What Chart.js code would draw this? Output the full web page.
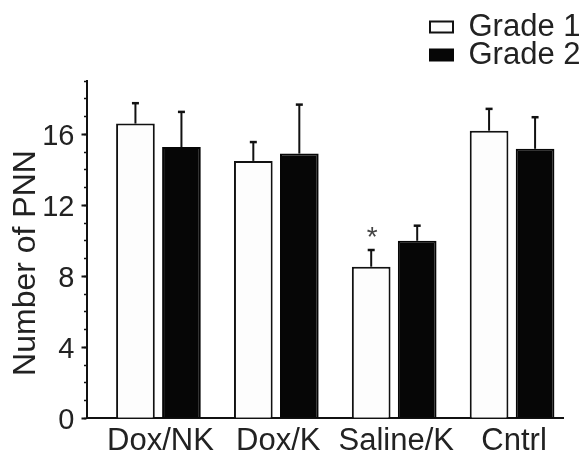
<!DOCTYPE html>
<html>
<head>
<meta charset="utf-8">
<script src="https://cdn.jsdelivr.net/npm/chart.js@4.4.1/dist/chart.umd.min.js"></script>
<style>
html,body{margin:0;padding:0;background:#ffffff;}
#wrap{width:586px;height:452px;position:relative;}
</style>
</head>
<body>
<div id="wrap"><canvas id="c"></canvas></div>
<script>
// ---- data ----
const categories = ['Dox/NK', 'Dox/K', 'Saline/K', 'Cntrl'];
const seriesNames = ['Grade 1', 'Grade 2'];
const grade1 = [16.6, 14.5, 8.54, 16.2];
const grade1Err = [1.15, 1.06, 0.94, 1.23];
const grade1Marks = ['', '', '*', ''];
const grade2 = [15.28, 14.91, 10.0, 15.18];
const grade2Err = [1.98, 2.76, 0.85, 1.78];
const grade2Marks = ['', '', '', ''];
const yMajorTicks = [0, 4, 8, 12, 16];
const yTitle = 'Number of PNN';

const FONT = "'Liberation Sans', Arial, Helvetica, sans-serif";
const TEXT = '#222222';
const INK = '#111111';
const X_MIN = -0.606, X_MAX = 3.432;
const Y_MIN = 0, Y_MAX = 19;

const xIdx = categories.map((_, i) => i);
const toPts = arr => arr.map((v, i) => ({ x: xIdx[i], y: v }));

const errorBars = {
  id: 'errorBars',
  afterDatasetsDraw(chart) {
    const ctx = chart.ctx;
    const ys = chart.scales.y;
    chart.data.datasets.forEach((ds, di) => {
      const meta = chart.getDatasetMeta(di);
      meta.data.forEach((bar, j) => {
        const v = ds.data[j].y;
        const top = ys.getPixelForValue(v + ds.errors[j]);
        ctx.save();
        ctx.strokeStyle = INK;
        ctx.lineWidth = 2;
        ctx.beginPath();
        ctx.moveTo(bar.x, bar.y);
        ctx.lineTo(bar.x, top);
        ctx.stroke();
        ctx.lineWidth = 2.5;
        ctx.beginPath();
        ctx.moveTo(bar.x - 3.5, top);
        ctx.lineTo(bar.x + 3.5, top);
        ctx.stroke();
        const mark = ds.marks[j];
        if (mark) {
          ctx.fillStyle = '#444444';
          ctx.font = '28px ' + FONT;
          ctx.textAlign = 'center';
          ctx.textBaseline = 'alphabetic';
          ctx.fillText(mark, bar.x + 1, top - 4);
        }
        ctx.restore();
      });
    });
  }
};

const legendPlacer = {
  id: 'legendPlacer',
  afterLayout(chart) {
    const lg = chart.legend;
    if (!lg) return;
    lg.left = 433; lg.top = 14.5; lg.right = 586; lg.bottom = 80;
    lg.width = lg.right - lg.left; lg.height = lg.bottom - lg.top;
    if (!lg._noClip) {
      lg.draw = function () { if (this.options.display) this._draw(); };
      lg._noClip = true;
    }
  }
};

new Chart(document.getElementById('c'), {
  type: 'bar',
  data: {
    datasets: [
      { label: seriesNames[0], data: toPts(grade1), errors: grade1Err, marks: grade1Marks,
        backgroundColor: '#fdfdfd', borderColor: INK, borderWidth: 2, yAxisID: 'y', xAxisID: 'x' },
      { label: seriesNames[1], data: toPts(grade2), errors: grade2Err, marks: grade2Marks,
        backgroundColor: '#060606', borderColor: '#060606', borderWidth: 2, yAxisID: 'y', xAxisID: 'x' }
    ]
  },
  options: {
    responsive: true,
    maintainAspectRatio: false,
    animation: false,
    categoryPercentage: 0.7805,
    barPercentage: 0.841,
    layout: { padding: { top: 81, right: 23, bottom: 0, left: 0 } },
    plugins: {
      tooltip: { enabled: false },
      legend: {
        position: 'chartArea',
        align: 'start',
        labels: {
          boxWidth: 23,
          boxHeight: 11,
          padding: -3,
          color: TEXT,
          textAlign: 'left',
          font: { family: FONT, size: 31 }
        }
      }
    },
    scales: {
      y: {
        type: 'linear',
        position: 'left',
        min: Y_MIN, max: Y_MAX,
        afterBuildTicks: axis => { axis.ticks = yMajorTicks.map(v => ({ value: v })); },
        afterFit: s => { s.width = 87; },
        ticks: { color: TEXT, font: { family: FONT, size: 29 }, padding: 7, labelOffset: 2.5 },
        grid: { drawOnChartArea: false, drawTicks: true, tickLength: 5.5, tickWidth: 2, tickColor: INK },
        border: { display: true, color: INK, width: 2 },
        title: { display: true, text: yTitle + '   ', color: TEXT, font: { family: FONT, size: 32 }, padding: { top: 6.5, bottom: 0 } }
      },
      yMinor: {
        type: 'linear',
        axis: 'y',
        position: { x: X_MIN },
        min: Y_MIN, max: Y_MAX,
        ticks: { display: false, stepSize: 1 },
        grid: { drawOnChartArea: false, drawTicks: true, tickLength: 3, tickWidth: 1.5, tickColor: INK },
        border: { display: false }
      },
      x: {
        type: 'linear',
        position: 'bottom',
        min: X_MIN, max: X_MAX,
        offset: false,
        afterBuildTicks: axis => { axis.ticks = xIdx.map(v => ({ value: v })); },
        afterFit: s => { s.height = 33.7; },
        ticks: {
          autoSkip: false, maxRotation: 0, minRotation: 0, padding: 5, labelOffset: 2,
          color: TEXT, font: { family: FONT, size: 31 },
          callback: v => categories[Math.round(v)]
        },
        grid: { display: true, drawOnChartArea: false, drawTicks: false },
        border: { display: true, color: INK, width: 2 }
      }
    }
  },
  plugins: [errorBars, legendPlacer]
});
</script>
</body>
</html>
